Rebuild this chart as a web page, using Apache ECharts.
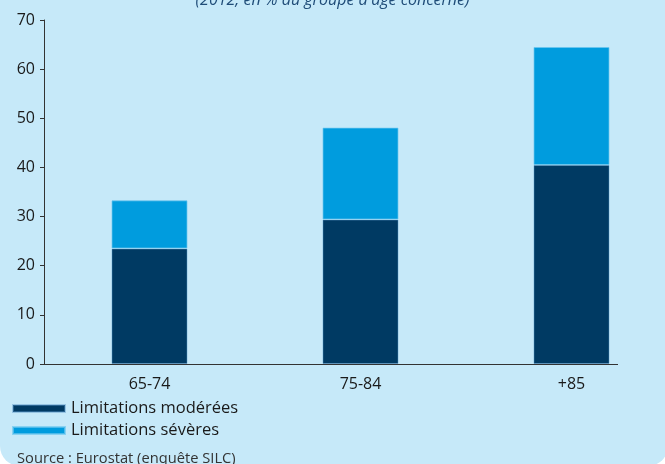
<!DOCTYPE html>
<html><head><meta charset="utf-8">
<script src="https://cdn.jsdelivr.net/npm/echarts@6/dist/echarts.min.js"></script>
<style>html,body{margin:0;padding:0;background:#fff;}#c{width:665px;height:464px;}</style>
</head><body><div id="c"></div>
<script>
const categories = ['65-74', '75-84', '+85'];
const moderees = [23.5, 29.4, 40.5];
const severes = [9.8, 18.7, 24.0];
const seriesNames = ['Limitations modérées', 'Limitations sévères'];
const yTicks = { min: 0, max: 70, interval: 10 };
const subtitle = "(2012, en % du groupe d'âge concerné)";
const source = 'Source : Eurostat (enquête SILC)';

const font = 'Open Sans';
const chart = echarts.init(document.getElementById('c'), null, { renderer: 'canvas' });
chart.setOption({
  animation: false,
  textStyle: { fontFamily: font },
  graphic: [
    { type: 'rect', z: -10, silent: true, shape: { x: 0, y: -30, width: 668, height: 496, r: [0, 0, 20, 20] }, style: { fill: '#C6E9F9' } },
    { type: 'text', left: 'center', top: -8, style: { text: subtitle, font: 'italic 16px "Open Sans"', fill: '#1F4C78' } },
    { type: 'text', left: 17, top: 451, style: { text: source, font: '14.7px "Open Sans"', fill: '#333' } },
    { type: 'line', silent: true, shape: { x1: 44, y1: 364.5, x2: 618, y2: 364.5 }, style: { stroke: '#333', lineWidth: 1 } }
  ],
  legend: {
    orient: 'vertical', left: 12, top: 400, padding: 0, itemWidth: 52, itemHeight: 7, itemGap: 5,
    icon: 'rect',
    textStyle: { fontSize: 16.5, color: '#1a1a1a', fontFamily: font, padding: [0, 0, 0, 1] },
    data: seriesNames
  },
  grid: { left: 44, width: 633, top: 20, bottom: 100, containLabel: false, outerBoundsMode: 'none' },
  xAxis: {
    type: 'category', data: categories,
    axisLine: { show: false }, axisTick: { show: false },
    axisLabel: { fontSize: 16, color: '#1a1a1a', margin: 12 }
  },
  yAxis: {
    type: 'value', min: yTicks.min, max: yTicks.max, interval: yTicks.interval,
    splitLine: { show: false },
    axisLine: { show: true, lineStyle: { color: '#333' } },
    axisTick: { show: true, length: 4, lineStyle: { color: '#333' } },
    axisLabel: { fontSize: 16, color: '#1a1a1a', margin: 9 }
  },
  series: [
    { name: seriesNames[0], type: 'bar', stack: 'a', data: moderees, barWidth: 76,
      itemStyle: { color: '#003A63', borderColor: 'rgba(90,150,200,0.45)', borderWidth: 1 } },
    { name: seriesNames[1], type: 'bar', stack: 'a', data: severes, barWidth: 76,
      itemStyle: { color: '#009CDE', borderColor: 'rgba(110,200,240,0.7)', borderWidth: 1 } }
  ]
});
</script></body></html>
